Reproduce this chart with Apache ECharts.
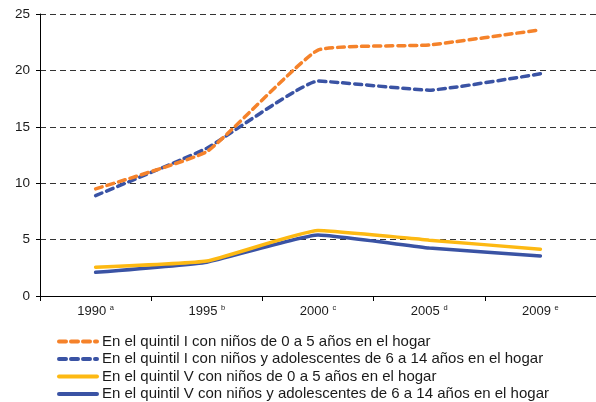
<!DOCTYPE html>
<html><head><meta charset="utf-8">
<script src="https://cdn.jsdelivr.net/npm/echarts@6/dist/echarts.min.js"></script>
<style>html,body{margin:0;padding:0;background:#fff}#c{width:596px;height:402px}</style>
</head><body><div id="c"></div>
<script>
const categories = ['1990', '1995', '2000', '2005', '2009'];
const notes = ['a', 'b', 'c', 'd', 'e'];
const seriesNames = [
  'En el quintil I con niños de 0 a 5 años en el hogar',
  'En el quintil I con niños y adolescentes de 6 a 14 años en el hogar',
  'En el quintil V con niños de 0 a 5 años en el hogar',
  'En el quintil V con niños y adolescentes de 6 a 14 años en el hogar'
];
const q1Young = [9.5, 12.8, 21.8, 22.25, 23.6];
const q1Old = [8.9, 13.1, 19.05, 18.25, 19.7];
const q5Young = [2.55, 3.1, 5.8, 4.95, 4.15];
const q5Old = [2.1, 3.0, 5.4, 4.25, 3.55];
const yTicks = [0, 5, 10, 15, 20, 25];

const colors = ['#F5822A', '#3A53A4', '#FDB913', '#3A53A4'];
const types = ['dashed', 'dashed', 'solid', 'solid'];
const dataSets = [q1Young, q1Old, q5Young, q5Old];

const chart = echarts.init(document.getElementById('c'));
chart.setOption({
  animation: false,
  textStyle: {fontFamily: 'Liberation Sans, Arial, sans-serif'},
  grid: {left: 40, top: 14, right: 0, bottom: 106, containLabel: false},
  legend: {
    orient: 'vertical', left: 57, top: 334, height: 70, width: 540,
    padding: 0,
    itemWidth: 38, itemHeight: 15, itemGap: 2.5,
    itemStyle: {opacity: 0},
    lineStyle: {width: 4, cap: 'round'},
    textStyle: {fontSize: 15, color: '#1a1a1a'},
    data: seriesNames
  },
  xAxis: {
    type: 'category', data: categories, boundaryGap: true,
    axisLine: {lineStyle: {color: '#000', width: 1}},
    axisTick: {show: true, length: 5, lineStyle: {color: '#000'}},
    axisLabel: {
      margin: 8, color: '#1a1a1a', fontSize: 13,
      formatter: (v, i) => v + ' {s|' + notes[i] + '}',
      rich: {s: {fontSize: 7.5, verticalAlign: 'top', padding: [0, 0, 6, 0], color: '#1a1a1a'}}
    }
  },
  yAxis: {
    type: 'value', min: yTicks[0], max: yTicks[yTicks.length - 1], interval: 5,
    axisLine: {show: true, lineStyle: {color: '#000', width: 1}},
    axisTick: {show: true, length: 4, lineStyle: {color: '#000'}},
    axisLabel: {color: '#1a1a1a', fontSize: 13.5, margin: 10},
    splitLine: {show: true, lineStyle: {color: '#333', type: [6, 4], width: 1}}
  },
  series: seriesNames.map((n, i) => ({
    name: n, type: 'line', data: dataSets[i], smooth: 0.12,
    symbol: 'none', color: colors[i],
    lineStyle: {color: colors[i], width: 3.5, type: types[i] === 'dashed' ? [7, 5] : 'solid', cap: 'round'},
    z: 10 - i
  }))
});
</script></body></html>
